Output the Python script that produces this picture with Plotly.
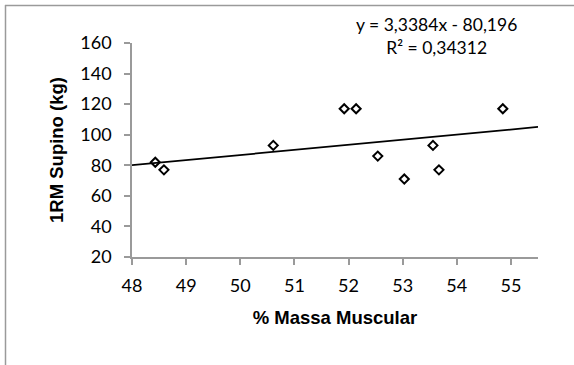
import plotly.graph_objects as go

# Data
massa_muscular = [48.43, 48.59, 50.61, 51.92, 52.14, 52.54, 53.03, 53.56, 53.67, 54.85]
supino_1rm = [82, 77, 93, 117, 117, 86, 71, 93, 77, 117]
slope = 3.3384
intercept = -80.196
eq_text = "y = 3,3384x - 80,196"
r2_text = "R² = 0,34312"
x_ticks = [48, 49, 50, 51, 52, 53, 54, 55]
y_ticks = [20, 40, 60, 80, 100, 120, 140, 160]
x_range = [48, 55.5]
y_range = [20, 160]

W, H = 574, 365
L, R, T, B = 132, 36, 43, 108
pw, ph = W - L - R, H - T - B

def px_x(px):
    return (px - L) / pw

def px_y(py):
    return 1 - (py - T) / ph

trend_x = list(x_range)
trend_y = [slope * v + intercept for v in trend_x]

fig = go.Figure()
fig.add_trace(go.Scatter(x=trend_x, y=trend_y, mode="lines",
                         line=dict(color="black", width=1.75),
                         hoverinfo="skip", showlegend=False, cliponaxis=False))
fig.add_trace(go.Scatter(x=massa_muscular, y=supino_1rm, mode="markers",
                         marker=dict(symbol="diamond-open", size=7, color="black",
                                     line=dict(color="black", width=2)),
                         showlegend=False, cliponaxis=False))

tickfont = dict(family="Lato", size=18, color="#000000")
annfont = dict(family="Lato", size=17.5, color="#000000")
titlefont = dict(family="Liberation Sans", size=18.5, color="#000000")

fig.update_layout(
    width=W, height=H,
    margin=dict(l=L, r=R, t=T, b=B, pad=0),
    paper_bgcolor="white", plot_bgcolor="white",
    xaxis=dict(range=x_range, tickvals=x_ticks, ticktext=[str(v) for v in x_ticks],
               showgrid=False, zeroline=False, showline=True, linecolor="#9a9a9a",
               linewidth=1.5, ticks="outside", ticklen=6, tickcolor="#9a9a9a",
               tickwidth=1.5, tickfont=tickfont, ticklabelstandoff=6,
               title=dict(text="<b>% Massa Muscular</b>", font=titlefont, standoff=16)),
    yaxis=dict(range=y_range, tickvals=y_ticks, ticktext=[str(v) for v in y_ticks],
               showgrid=False, zeroline=False, showline=True, linecolor="#9a9a9a",
               linewidth=1.5, ticks="outside", ticklen=6, tickcolor="#9a9a9a",
               tickwidth=1.5, tickfont=tickfont, ticklabelstandoff=9,
               title=dict(text="<b>1RM Supino (kg)</b>", font=titlefont, standoff=12)),
    shapes=[
        dict(type="line", xref="paper", yref="paper", x0=px_x(5), x1=px_x(700),
             y0=px_y(5.5), y1=px_y(5.5), line=dict(color="#9a9a9a", width=1.5)),
        dict(type="line", xref="paper", yref="paper", x0=px_x(5.5), x1=px_x(5.5),
             y0=px_y(5), y1=px_y(500), line=dict(color="#9a9a9a", width=1.5)),
    ],
    annotations=[
        dict(text=eq_text + "<br>" + r2_text, xref="paper", yref="paper",
             x=px_x(436), y=px_y(36.5), xanchor="center", yanchor="middle",
             align="center", showarrow=False, font=annfont),
    ],
)

fig.write_html("out.html")
